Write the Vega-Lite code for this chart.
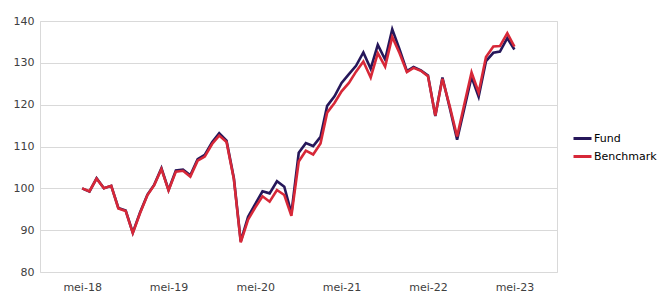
{
  "$schema": "https://vega.github.io/schema/vega-lite/v6.json",
  "autosize": "none",
  "width": 517,
  "height": 251,
  "padding": {"left": 40, "top": 21, "right": 103, "bottom": 21},
  "background": "white",
  "config": {
    "font": "DejaVu Sans",
    "view": {"stroke": "#d9d9d9", "strokeWidth": 1},
    "axis": {"labelFont": "DejaVu Sans", "labelFontSize": 11, "labelColor": "#404040", "gridColor": "#d9d9d9", "gridWidth": 1, "ticks": false, "domain": false, "title": null}
  },
  "data": {"values": [
    {"date": "2018-05-01", "Fund": 100, "Benchmark": 100},
    {"date": "2018-06-01", "Fund": 99.2, "Benchmark": 99.3},
    {"date": "2018-07-01", "Fund": 102.4, "Benchmark": 102.3},
    {"date": "2018-08-01", "Fund": 100, "Benchmark": 100},
    {"date": "2018-09-01", "Fund": 100.6, "Benchmark": 100.6},
    {"date": "2018-10-01", "Fund": 95.3, "Benchmark": 95.2},
    {"date": "2018-11-01", "Fund": 94.7, "Benchmark": 94.6},
    {"date": "2018-12-01", "Fund": 89.4, "Benchmark": 89.3},
    {"date": "2019-01-01", "Fund": 94.3, "Benchmark": 94.1},
    {"date": "2019-02-01", "Fund": 98.5, "Benchmark": 98.4},
    {"date": "2019-03-01", "Fund": 100.8, "Benchmark": 100.7},
    {"date": "2019-04-01", "Fund": 104.8, "Benchmark": 104.6},
    {"date": "2019-05-01", "Fund": 99.6, "Benchmark": 99.5},
    {"date": "2019-06-01", "Fund": 104.3, "Benchmark": 104.0},
    {"date": "2019-07-01", "Fund": 104.5, "Benchmark": 104.2},
    {"date": "2019-08-01", "Fund": 103.1, "Benchmark": 102.8},
    {"date": "2019-09-01", "Fund": 107.0, "Benchmark": 106.6},
    {"date": "2019-10-01", "Fund": 108.0, "Benchmark": 107.6},
    {"date": "2019-11-01", "Fund": 111.0, "Benchmark": 110.6},
    {"date": "2019-12-01", "Fund": 113.2, "Benchmark": 112.6},
    {"date": "2020-01-01", "Fund": 111.4, "Benchmark": 111.1},
    {"date": "2020-02-01", "Fund": 102.4, "Benchmark": 102.2},
    {"date": "2020-03-01", "Fund": 87.3, "Benchmark": 87.1},
    {"date": "2020-04-01", "Fund": 93.2, "Benchmark": 92.5},
    {"date": "2020-05-01", "Fund": 96.2, "Benchmark": 95.4},
    {"date": "2020-06-01", "Fund": 99.3, "Benchmark": 98.1},
    {"date": "2020-07-01", "Fund": 98.8, "Benchmark": 96.8},
    {"date": "2020-08-01", "Fund": 101.7, "Benchmark": 99.6},
    {"date": "2020-09-01", "Fund": 100.4, "Benchmark": 98.4},
    {"date": "2020-10-01", "Fund": 94.0, "Benchmark": 93.4},
    {"date": "2020-11-01", "Fund": 108.5, "Benchmark": 106.4},
    {"date": "2020-12-01", "Fund": 110.8, "Benchmark": 109.0},
    {"date": "2021-01-01", "Fund": 110.1, "Benchmark": 108.1},
    {"date": "2021-02-01", "Fund": 112.3, "Benchmark": 110.7},
    {"date": "2021-03-01", "Fund": 119.7, "Benchmark": 118.1},
    {"date": "2021-04-01", "Fund": 122.0, "Benchmark": 120.4},
    {"date": "2021-05-01", "Fund": 125.2, "Benchmark": 123.2},
    {"date": "2021-06-01", "Fund": 127.3, "Benchmark": 125.2},
    {"date": "2021-07-01", "Fund": 129.3, "Benchmark": 127.9},
    {"date": "2021-08-01", "Fund": 132.5, "Benchmark": 130.3},
    {"date": "2021-09-01", "Fund": 128.6, "Benchmark": 126.5},
    {"date": "2021-10-01", "Fund": 134.3, "Benchmark": 132.3},
    {"date": "2021-11-01", "Fund": 130.8, "Benchmark": 129.1},
    {"date": "2021-12-01", "Fund": 138.0, "Benchmark": 136.2},
    {"date": "2022-01-01", "Fund": 133.2, "Benchmark": 132.3},
    {"date": "2022-02-01", "Fund": 128.0, "Benchmark": 127.8},
    {"date": "2022-03-01", "Fund": 129.0, "Benchmark": 128.8},
    {"date": "2022-04-01", "Fund": 128.2, "Benchmark": 128.1},
    {"date": "2022-05-01", "Fund": 127.0, "Benchmark": 126.8},
    {"date": "2022-06-01", "Fund": 117.3, "Benchmark": 117.4},
    {"date": "2022-07-01", "Fund": 126.5, "Benchmark": 126.2},
    {"date": "2022-08-01", "Fund": 119.2, "Benchmark": 119.6},
    {"date": "2022-09-01", "Fund": 111.6, "Benchmark": 112.4},
    {"date": "2022-10-01", "Fund": 119.0, "Benchmark": 120.0},
    {"date": "2022-11-01", "Fund": 126.6, "Benchmark": 127.7},
    {"date": "2022-12-01", "Fund": 121.9, "Benchmark": 122.9},
    {"date": "2023-01-01", "Fund": 130.4, "Benchmark": 131.4},
    {"date": "2023-02-01", "Fund": 132.4, "Benchmark": 133.9},
    {"date": "2023-03-01", "Fund": 132.7, "Benchmark": 134.0},
    {"date": "2023-04-01", "Fund": 135.9, "Benchmark": 137.1},
    {"date": "2023-05-01", "Fund": 133.2, "Benchmark": 133.9}
  ]},
  "encoding": {
    "x": {
      "field": "date", "type": "temporal",
      "scale": {"type": "utc", "domain": [{"year": 2017, "month": 11, "date": 4, "utc": true}, {"year": 2023, "month": 10, "date": 28, "utc": true}]},
      "axis": {
        "grid": false,
        "labelPadding": 9,
        "values": [
          {"year": 2018, "month": 5, "date": 1, "utc": true},
          {"year": 2019, "month": 5, "date": 1, "utc": true},
          {"year": 2020, "month": 5, "date": 1, "utc": true},
          {"year": 2021, "month": 5, "date": 1, "utc": true},
          {"year": 2022, "month": 5, "date": 1, "utc": true},
          {"year": 2023, "month": 5, "date": 1, "utc": true}
        ],
        "labelExpr": "'mei-' + utcFormat(datum.value, '%y')"
      }
    }
  },
  "layer": [
    {
      "mark": {"type": "line", "strokeWidth": 2.6},
      "encoding": {
        "y": {"field": "Fund", "type": "quantitative", "scale": {"domain": [80, 140], "nice": false, "zero": false}, "axis": {"values": [80, 90, 100, 110, 120, 130, 140], "labelPadding": 6}},
        "color": {"datum": "Fund", "type": "nominal", "scale": {"domain": ["Fund", "Benchmark"], "range": ["#26175a", "#d72838"]},
          "legend": {"title": null, "orient": "none", "legendX": 532, "legendY": 107, "symbolType": "stroke", "symbolSize": 324, "symbolStrokeWidth": 3, "labelFontSize": 11, "labelColor": "#000000", "labelOffset": 1, "rowPadding": 1, "padding": 0}}
      }
    },
    {
      "mark": {"type": "line", "strokeWidth": 2.6},
      "encoding": {
        "y": {"field": "Benchmark", "type": "quantitative"},
        "color": {"datum": "Benchmark", "type": "nominal"}
      }
    }
  ]
}
